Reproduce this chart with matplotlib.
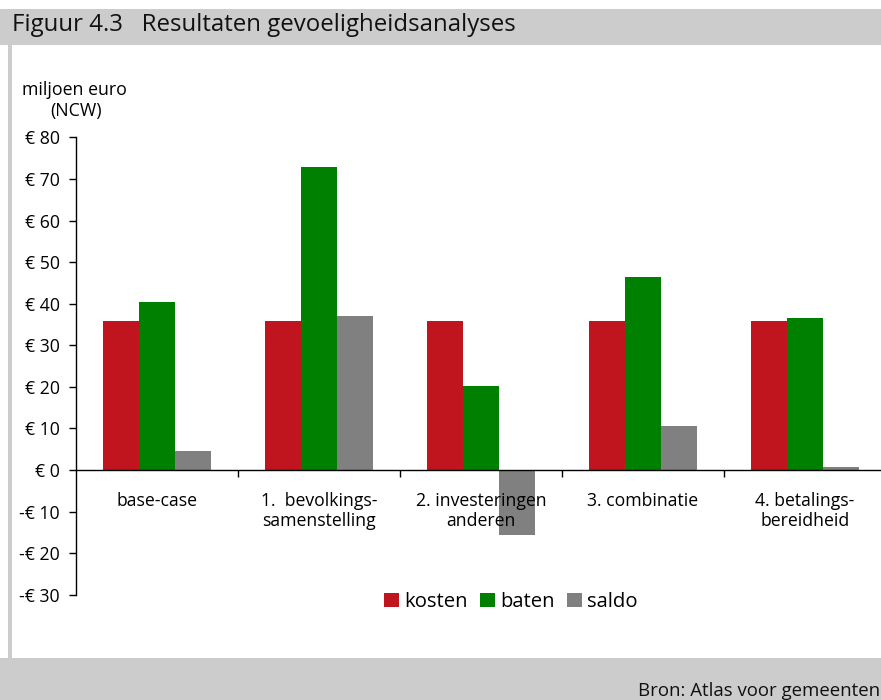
import matplotlib
matplotlib.use("Agg")
import matplotlib.pyplot as plt
from matplotlib.patches import Rectangle
from matplotlib.ticker import FixedLocator, FuncFormatter

plt.rcParams['font.family'] = ['Open Sans', 'DejaVu Sans']

categories = ["base-case", "1.  bevolkings-\nsamenstelling", "2. investeringen\nanderen",
              "3. combinatie", "4. betalings-\nbereidheid"]
kosten = [35.8, 35.8, 35.8, 35.8, 35.8]
baten = [40.4, 72.9, 20.2, 46.4, 36.6]
saldo = [4.6, 37.1, -15.6, 10.6, 0.8]
series_names = ["kosten", "baten", "saldo"]
colors = ["#C0141E", "#008000", "#808080"]
y_ticks = [-30, -20, -10, 0, 10, 20, 30, 40, 50, 60, 70, 80]

W, H = 881, 700
fig = plt.figure(figsize=(W / 100, H / 100), dpi=100)
fig.patch.set_facecolor("white")

# header band, footer band and left border
fig.patches.append(Rectangle((0, 1 - 45 / H), 1, 36 / H, transform=fig.transFigure,
                             facecolor="#CCCCCC", edgecolor="none", zorder=0))
fig.patches.append(Rectangle((0, 0), 1, 42 / H, transform=fig.transFigure,
                             facecolor="#CCCCCC", edgecolor="none", zorder=0))
fig.patches.append(Rectangle((8 / W, 42 / H), 4 / W, (H - 87) / H, transform=fig.transFigure,
                             facecolor="#CCCCCC", edgecolor="none", zorder=0))

fig.text(12 / W, 1 - 25 / H, "Figuur 4.3   Resultaten gevoeligheidsanalyses",
         fontsize=17.3, va="center", ha="left", color="#111111")
fig.text(880 / W, 1 - 691 / H, "Bron: Atlas voor gemeenten",
         fontsize=13.4, va="center", ha="right", color="#111111")
fig.text(22 / W, 1 - 90 / H, "miljoen euro", fontsize=12.8, va="center", ha="left")
fig.text(76 / W, 1 - 111 / H, "(NCW)", fontsize=12.8, va="center", ha="center")

ax_left, ax_right = 76 / W, 886 / W
ax_top, ax_bot = 1 - 137.4 / H, 1 - 594.7 / H
ax = fig.add_axes([ax_left, ax_bot, ax_right - ax_left, ax_top - ax_bot])
ax.set_facecolor("none")

bw = 0.224
x = list(range(len(categories)))
for i, (vals, name, c) in enumerate(zip([kosten, baten, saldo], series_names, colors)):
    ax.bar([xi + (i - 1) * bw for xi in x], vals, width=bw, color=c, label=name,
           linewidth=0, zorder=1)

ax.set_xlim(-0.5, len(categories) - 0.5)
ax.set_ylim(-30, 80)
ax.spines["top"].set_visible(False)
ax.spines["right"].set_visible(False)
ax.spines["bottom"].set_position(("data", 0))
ax.spines["bottom"].set_linewidth(1.0)
ax.spines["left"].set_linewidth(1.0)

ax.set_yticks(y_ticks)
ax.yaxis.set_major_formatter(FuncFormatter(lambda v, p: ("-€ %d" % -v) if v < 0 else "€ %d" % v))
ax.tick_params(axis="y", direction="out", length=5, width=1, labelsize=12.7, pad=6.5)

ax.set_xticks(x)
ax.set_xticklabels(categories, fontsize=12.7, linespacing=1.18)
ax.tick_params(axis="x", which="major", length=0, pad=15.5)
ax.xaxis.set_minor_locator(FixedLocator([k + 0.5 for k in range(len(categories) - 1)]))
ax.tick_params(axis="x", which="minor", direction="out", length=5, width=1)
for lbl in ax.get_xticklabels():
    lbl.set_verticalalignment("top")

handles, labels = ax.get_legend_handles_labels()
fig.legend(handles, labels, loc="center", bbox_to_anchor=(511 / W, 1 - 602 / H),
           ncol=3, frameon=False, fontsize=14.6, handlelength=0.74, handleheight=0.7,
           handletextpad=0.25, columnspacing=0.6, borderaxespad=0, borderpad=0)

fig.savefig("out.png", dpi=100)
